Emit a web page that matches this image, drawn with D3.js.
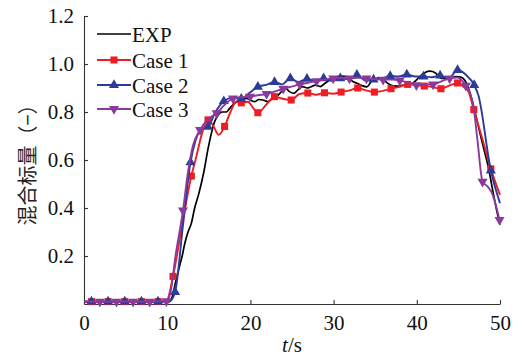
<!DOCTYPE html>
<html>
<head>
<meta charset="utf-8">
<script src="https://cdn.jsdelivr.net/npm/d3@7"></script>
<style>
  html, body { margin: 0; padding: 0; background: #fff; }
  svg { display: block; }
  svg text.serif { font-family: "Liberation Serif", "Times New Roman", "DejaVu Serif", serif; }
  svg text.cjk { font-family: "Noto Sans CJK SC", sans-serif; }
</style>
</head>
<body>
<svg id="chart" width="524" height="361"></svg>
<script>
// Mixing scalar vs time: experiment and three simulation cases.
// Points are [t (s), value]; simulation points carry a third flag, 1 = draw a marker.
const expData = [[0,0.01],[10.3,0.01],[10.6,0.03],[11.0,0.09],[11.5,0.16],[11.8,0.2],[12.1,0.25],[12.5,0.3],[12.9,0.336],[13.3,0.40],[13.8,0.46],[14.4,0.55],[14.9,0.645],[15.3,0.71],[15.7,0.76],[16.1,0.785],[16.6,0.80],[17.1,0.80],[17.5,0.815],[17.9,0.83],[18.4,0.845],[18.8,0.85],[19.5,0.857],[20.0,0.85],[20.5,0.843],[21.0,0.852],[21.5,0.85],[22.1,0.843],[22.6,0.855],[23.1,0.864],[23.6,0.88],[24.2,0.9],[24.7,0.885],[25.2,0.878],[25.8,0.895],[26.3,0.906],[26.8,0.9],[27.3,0.905],[27.8,0.912],[28.4,0.906],[28.9,0.918],[29.4,0.93],[30,0.943],[30.5,0.948],[31,0.95],[31.5,0.948],[31.9,0.945],[32.2,0.93],[32.8,0.92],[33.4,0.91],[34,0.905],[34.5,0.925],[34.9,0.936],[35.4,0.942],[35.9,0.94],[36.4,0.922],[37,0.91],[37.6,0.908],[38.4,0.912],[39.0,0.915],[39.5,0.92],[40.0,0.935],[40.5,0.952],[41.0,0.965],[41.6,0.97],[42.2,0.964],[42.6,0.95],[43.0,0.94],[43.6,0.94],[44.2,0.945],[44.8,0.947],[45.3,0.945],[45.8,0.93],[46.2,0.9],[46.6,0.855],[47.2,0.77],[47.6,0.71],[48.1,0.64],[48.6,0.57],[49.2,0.46],[49.6,0.39],[50,0.33]];

const case1Data = [[0,0.01,0],[0.9,0.01,1],[2.9,0.01,1],[4.9,0.01,1],[6.9,0.01,1],[8.9,0.01,1],[9.9,0.012,0],[10.7,0.115,1],[11.8,0.33,0],[12.9,0.533,1],[13.5,0.614,0],[14.1,0.7,0],[14.9,0.767,1],[15.5,0.745,0],[16.2,0.705,0],[16.9,0.74,1],[17.6,0.80,0],[18.3,0.843,0],[18.9,0.838,1],[19.7,0.843,0],[20.3,0.818,0],[20.9,0.797,1],[21.9,0.83,0],[22.9,0.864,1],[23.9,0.855,0],[24.9,0.85,1],[25.9,0.875,0],[26.9,0.879,1],[27.9,0.872,0],[28.9,0.88,1],[29.9,0.876,0],[30.9,0.883,1],[31.9,0.89,0],[32.9,0.9,1],[33.9,0.89,0],[34.9,0.883,1],[35.9,0.888,0],[36.9,0.897,1],[37.9,0.905,0],[38.9,0.915,1],[39.9,0.912,0],[40.9,0.908,1],[41.9,0.904,0],[42.9,0.897,1],[43.9,0.91,0],[44.9,0.921,1],[45.6,0.905,0],[46.2,0.885,0],[46.85,0.81,1],[47.9,0.685,0],[48.9,0.563,1],[50,0.455,0]];

const case2Data = [[0,0.01,0],[0.9,0.01,1],[2.9,0.01,1],[4.9,0.01,1],[6.9,0.01,1],[8.9,0.01,1],[10.3,0.012,0],[10.95,0.05,1],[11.9,0.33,0],[12.8,0.59,1],[13.4,0.68,0],[14.1,0.728,0],[14.9,0.738,1],[15.8,0.80,0],[16.8,0.845,1],[17.9,0.86,0],[18.9,0.855,1],[19.9,0.88,0],[20.9,0.905,1],[21.9,0.913,0],[22.9,0.925,1],[23.8,0.915,0],[24.8,0.94,1],[25.8,0.925,0],[26.8,0.938,1],[27.8,0.93,0],[28.8,0.94,1],[29.8,0.93,0],[30.8,0.94,1],[31.8,0.937,0],[32.8,0.955,1],[33.8,0.932,0],[34.8,0.935,1],[35.8,0.94,0],[36.8,0.95,1],[37.8,0.948,0],[38.8,0.956,1],[39.8,0.948,0],[40.8,0.948,1],[41.8,0.945,0],[42.8,0.952,1],[43.8,0.94,0],[44.9,0.975,1],[45.9,0.955,0],[46.9,0.912,1],[47.4,0.87,0],[48.9,0.556,1],[50,0.42,0]];

const case3Data = [[0,0.01,0],[1.9,0.01,1],[3.9,0.01,1],[5.9,0.01,1],[7.9,0.01,1],[9.9,0.012,1],[10.4,0.05,0],[11.0,0.2,0],[11.9,0.39,1],[12.5,0.55,0],[13.1,0.66,0],[13.95,0.725,1],[14.9,0.77,0],[15.95,0.795,1],[16.9,0.83,0],[17.9,0.857,1],[18.9,0.862,0],[19.95,0.864,1],[20.9,0.87,0],[21.95,0.875,1],[22.9,0.885,0],[23.95,0.897,1],[24.95,0.906,0],[25.95,0.915,1],[26.95,0.922,0],[27.95,0.929,1],[28.95,0.935,0],[29.95,0.94,1],[30.95,0.942,0],[31.9,0.94,1],[32.95,0.942,0],[33.95,0.94,1],[34.95,0.937,0],[35.95,0.935,1],[36.95,0.935,0],[37.95,0.932,1],[38.95,0.922,0],[39.95,0.912,1],[40.95,0.914,0],[41.95,0.915,1],[42.95,0.928,0],[43.95,0.94,1],[44.9,0.944,0],[45.9,0.91,1],[46.4,0.88,0],[46.9,0.8,0],[47.3,0.68,0],[47.9,0.51,1],[48.5,0.49,0],[49.0,0.465,0],[49.95,0.35,1]];

const seriesNames = ["EXP", "Case 1", "Case 2", "Case 3"];
const xTicks = [0, 10, 20, 30, 40, 50];
const yTicks = [0.2, 0.4, 0.6, 0.8, 1.0, 1.2];
const xTitle = "t";
const xUnit = "/s";
const yTitle = "混合标量（−）";

const series = [
  { name: seriesNames[0], data: expData,   color: "#000000", width: 1.7, symbol: null },
  { name: seriesNames[1], data: case1Data, color: "#ee1d24", width: 1.9, symbol: d3.symbolSquare, size: 50, rot: 0 },
  { name: seriesNames[2], data: case2Data, color: "#2b3b97", width: 1.9, symbol: d3.symbolTriangle, size: 44, rot: 0 },
  { name: seriesNames[3], data: case3Data, color: "#8b3a9b", width: 1.9, symbol: d3.symbolTriangle, size: 44, rot: 180 }
];

const svg = d3.select("#chart");
const plotLeft = 84, plotRight = 500, plotTop = 16, plotBottom = 304;

const x = d3.scaleLinear().domain([0, 50]).range([plotLeft, plotRight]);
const y = d3.scaleLinear().domain([0, 1.2]).range([plotBottom, plotTop]);

// Axes: ticks point into the plot
const xAxis = d3.axisBottom(x).tickValues(xTicks).tickFormat(d3.format("d"))
  .tickSizeInner(-4).tickSizeOuter(0).tickPadding(11);
const yAxis = d3.axisLeft(y).tickValues(yTicks).tickFormat(d3.format(".1f"))
  .tickSizeInner(-4).tickSizeOuter(0).tickPadding(10);

const gx = svg.append("g").attr("transform", `translate(0,${plotBottom})`).call(xAxis);
const gy = svg.append("g").attr("transform", `translate(${plotLeft},0)`).call(yAxis);
[gx, gy].forEach(g => {
  g.attr("font-family", null).attr("font-size", null);
  g.selectAll("path.domain").attr("stroke", "#333").attr("stroke-width", 1.1);
  g.selectAll(".tick line").attr("stroke", "#333").attr("stroke-width", 1.1);
  g.selectAll("text").attr("class", "serif").style("font-size", "21px").attr("fill", "#111");
});

// Series lines and markers
const line = d3.line().x(d => x(d[0])).y(d => y(d[1])).curve(d3.curveMonotoneX);
const plot = svg.append("g");
series.forEach(s => {
  plot.append("path").datum(s.data)
    .attr("d", line).attr("fill", "none")
    .attr("stroke", s.color).attr("stroke-width", s.width)
    .attr("stroke-linejoin", "round");
  if (s.symbol) {
    const sym = d3.symbol().type(s.symbol).size(s.size);
    plot.selectAll(null).data(s.data.filter(d => d[2] === 1)).enter()
      .append("path").attr("d", sym)
      .attr("transform", d => `translate(${x(d[0])},${y(d[1])}) rotate(${s.rot})`)
      .attr("fill", s.color);
  }
});

// Legend
const legend = svg.append("g");
const legY = [34, 60, 85, 109];
series.forEach((s, i) => {
  const g = legend.append("g").attr("transform", `translate(0,${legY[i]})`);
  g.append("line").attr("x1", 97).attr("x2", 131).attr("y1", 0).attr("y2", 0)
    .attr("stroke", s.color).attr("stroke-width", s.width);
  if (s.symbol) {
    g.append("path").attr("d", d3.symbol().type(s.symbol).size(s.size)())
      .attr("transform", `translate(114,0) rotate(${s.rot})`).attr("fill", s.color);
  }
  g.append("text").attr("class", "serif").attr("x", 132).attr("y", 7.5)
    .style("font-size", "21px").attr("fill", "#111").text(s.name);
});

// Axis titles
const xt = svg.append("text").attr("class", "serif")
  .attr("x", (plotLeft + plotRight) / 2).attr("y", 352)
  .attr("text-anchor", "middle")
  .style("font-size", "21px").attr("fill", "#111");
xt.append("tspan").attr("font-style", "italic").text(xTitle);
xt.append("tspan").text(xUnit);

svg.append("text").attr("class", "cjk")
  .attr("transform", `translate(35,${(plotTop + plotBottom) / 2}) rotate(-90)`)
  .attr("text-anchor", "middle")
  .style("font-size", "20px").attr("fill", "#222").text(yTitle);
</script>
</body>
</html>
